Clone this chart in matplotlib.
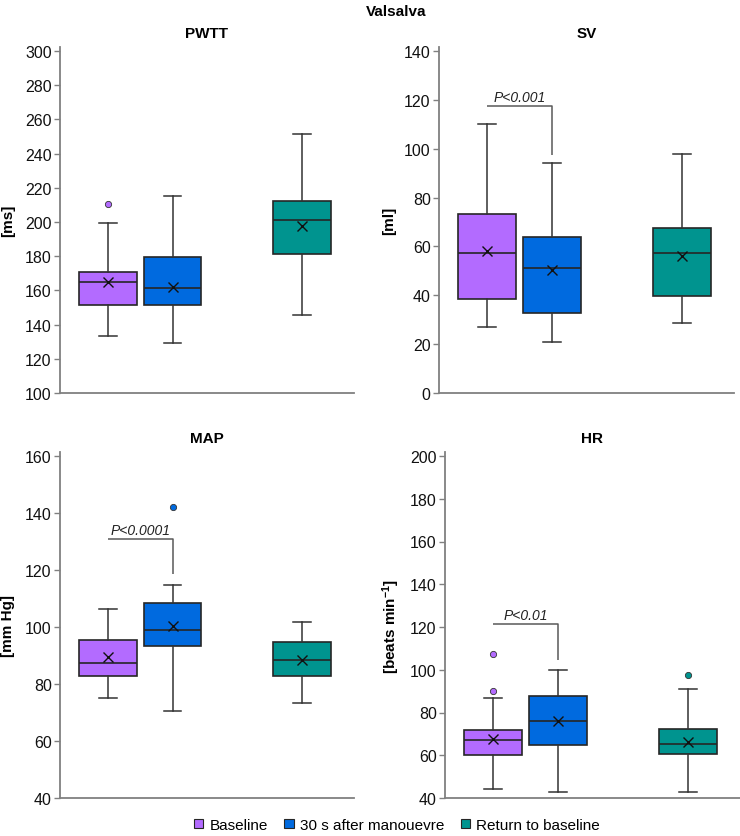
import matplotlib
matplotlib.use('Agg')
import matplotlib.pyplot as plt
from matplotlib.patches import Patch

plt.rcParams['font.family'] = ['Liberation Sans', 'DejaVu Sans']
plt.rcParams['mathtext.fontset'] = 'custom'
plt.rcParams['mathtext.rm'] = 'Liberation Sans'
plt.rcParams['mathtext.bf'] = 'Liberation Sans:bold'
plt.rcParams['mathtext.it'] = 'Liberation Sans:italic'

# ---------------- data ----------------
groups = ['Baseline', '30 s after manouevre', 'Return to baseline']
colors = ['#B36BFF', '#006ADF', '#00948F']
positions = [1, 2, 4]

panel_titles = ['PWTT', 'SV', 'MAP', 'HR']
ylabels = ['[ms]', '[ml]', '[mm Hg]', r'[beats min$^{\mathbf{-1}}$]']
yranges = [(100, 300), (0, 140), (40, 160), (40, 200)]

# order: Baseline, 30 s after, Return to baseline
pwtt_whislo = [133.1, 129.4, 145.8]
pwtt_q1 = [151.3, 151.7, 181.1]
pwtt_med = [165.0, 161.5, 201.4]
pwtt_q3 = [170.8, 179.5, 212.3]
pwtt_whishi = [199.6, 215.3, 251.7]
pwtt_mean = [164.8, 161.8, 197.9]
pwtt_fliers = [[210.7], [], []]

sv_whislo = [27.2, 20.9, 28.8]
sv_q1 = [38.6, 32.9, 39.7]
sv_med = [57.3, 51.0, 57.2]
sv_q3 = [73.3, 63.7, 67.6]
sv_whishi = [110.3, 94.0, 98.0]
sv_mean = [58.0, 50.5, 56.1]
sv_fliers = [[], [], []]

map_whislo = [75.1, 70.6, 73.2]
map_q1 = [82.7, 93.3, 82.7]
map_med = [87.5, 98.8, 88.4]
map_q3 = [95.5, 108.5, 94.8]
map_whishi = [106.3, 114.6, 101.9]
map_mean = [89.3, 100.2, 88.5]
map_fliers = [[], [142.1], []]

hr_whislo = [44.1, 42.7, 42.7]
hr_q1 = [60.2, 64.7, 60.7]
hr_med = [67.1, 76.0, 65.2]
hr_q3 = [71.9, 87.8, 72.5]
hr_whishi = [86.9, 99.7, 90.8]
hr_mean = [67.4, 76.0, 66.3]
hr_fliers = [[107.6, 89.9], [], [97.7]]

# significance brackets: (bracket level, drop-to level, label); None = no bracket
sig = [None, (117.4, 97.3, 'P<0.001'), (130.8, 118.6, 'P<0.0001'), (121.2, 104.7, 'P<0.01')]

panel_data = [
    (pwtt_whislo, pwtt_q1, pwtt_med, pwtt_q3, pwtt_whishi, pwtt_mean, pwtt_fliers),
    (sv_whislo, sv_q1, sv_med, sv_q3, sv_whishi, sv_mean, sv_fliers),
    (map_whislo, map_q1, map_med, map_q3, map_whishi, map_mean, map_fliers),
    (hr_whislo, hr_q1, hr_med, hr_q3, hr_whishi, hr_mean, hr_fliers),
]

# ---------------- layout (pixels) ----------------
W, H = 740, 837
fig = plt.figure(figsize=(W / 100, H / 100), dpi=100)
# left, right, bottom, top-tick pixel rows
layout = [(60, 354, 394, 52), (439, 734, 394, 52),
          (60, 354, 799, 457), (445, 740, 799, 457)]
label_x = [-0.153, -0.146, -0.153, -0.146]
EXT = 4

spine_c = '#808080'
edge_c = '#262626'

for i in range(4):
    l, r, b, t = layout[i]
    lo, hi = yranges[i]
    top_px = t - EXT
    ax = fig.add_axes([l / W, (H - b) / H, (r - l) / W, (b - top_px) / H])
    whislo, q1, med, q3, whishi, mean, fliers = panel_data[i]
    for j in range(3):
        st = dict(whislo=whislo[j], q1=q1[j], med=med[j], q3=q3[j],
                  whishi=whishi[j], mean=mean[j], fliers=fliers[j], label='')
        ax.bxp([st], positions=[positions[j]], widths=0.89, capwidths=0.27,
               patch_artist=True, showmeans=True, showfliers=True,
               boxprops=dict(facecolor=colors[j], edgecolor=edge_c, linewidth=1.2),
               medianprops=dict(color=edge_c, linewidth=1.2),
               whiskerprops=dict(color='#333333', linewidth=1.1),
               capprops=dict(color='#333333', linewidth=1.1),
               meanprops=dict(marker='x', markeredgecolor='#111111',
                              markersize=7, markeredgewidth=1.0),
               flierprops=dict(marker='o', markerfacecolor=colors[j],
                               markeredgecolor='#333333', markersize=4.5,
                               markeredgewidth=0.6))
    ax.set_xlim(1 - 48 / 65, 4 + 52 / 65)
    ax.set_ylim(lo, hi + (hi - lo) * EXT / (b - t))
    ax.set_yticks(range(lo, hi + 1, 20))
    ax.set_xticks([])
    for s in ['top', 'right']:
        ax.spines[s].set_visible(False)
    for s in ['left', 'bottom']:
        ax.spines[s].set_color(spine_c)
        ax.spines[s].set_linewidth(1.3)
    ax.tick_params(axis='y', direction='out', length=4, width=1.0,
                   color=spine_c, labelsize=11.5, pad=2, labelcolor='#111111')
    ax.set_title(panel_titles[i], fontsize=11, fontweight='bold', pad=7)
    ax.set_ylabel(ylabels[i], fontsize=11, fontweight='bold')
    ax.yaxis.set_label_coords(label_x[i], 0.5)
    if sig[i] is not None:
        yb, yd, lab = sig[i]
        ax.plot([positions[0], positions[1], positions[1]], [yb, yb, yd],
                color='#595959', linewidth=1.1, solid_capstyle='butt')
        ax.annotate(lab, xy=(1.5, yb), xytext=(0, 1.5), textcoords='offset points',
                    ha='center', va='bottom', fontsize=10, style='italic',
                    color='#222222')

fig.text(396 / W, 1 - 12 / H, 'Valsalva', ha='center', va='center',
         fontsize=11, fontweight='bold')

handles = [Patch(facecolor=c, edgecolor=edge_c, linewidth=0.8) for c in colors]
fig.legend(handles, groups, loc='center', bbox_to_anchor=(397 / W, 1 - 826 / H),
           ncol=3, frameon=False, fontsize=11, handlelength=0.6, handleheight=0.6,
           handletextpad=0.4, columnspacing=1.1)

fig.savefig('out.png', dpi=100)
